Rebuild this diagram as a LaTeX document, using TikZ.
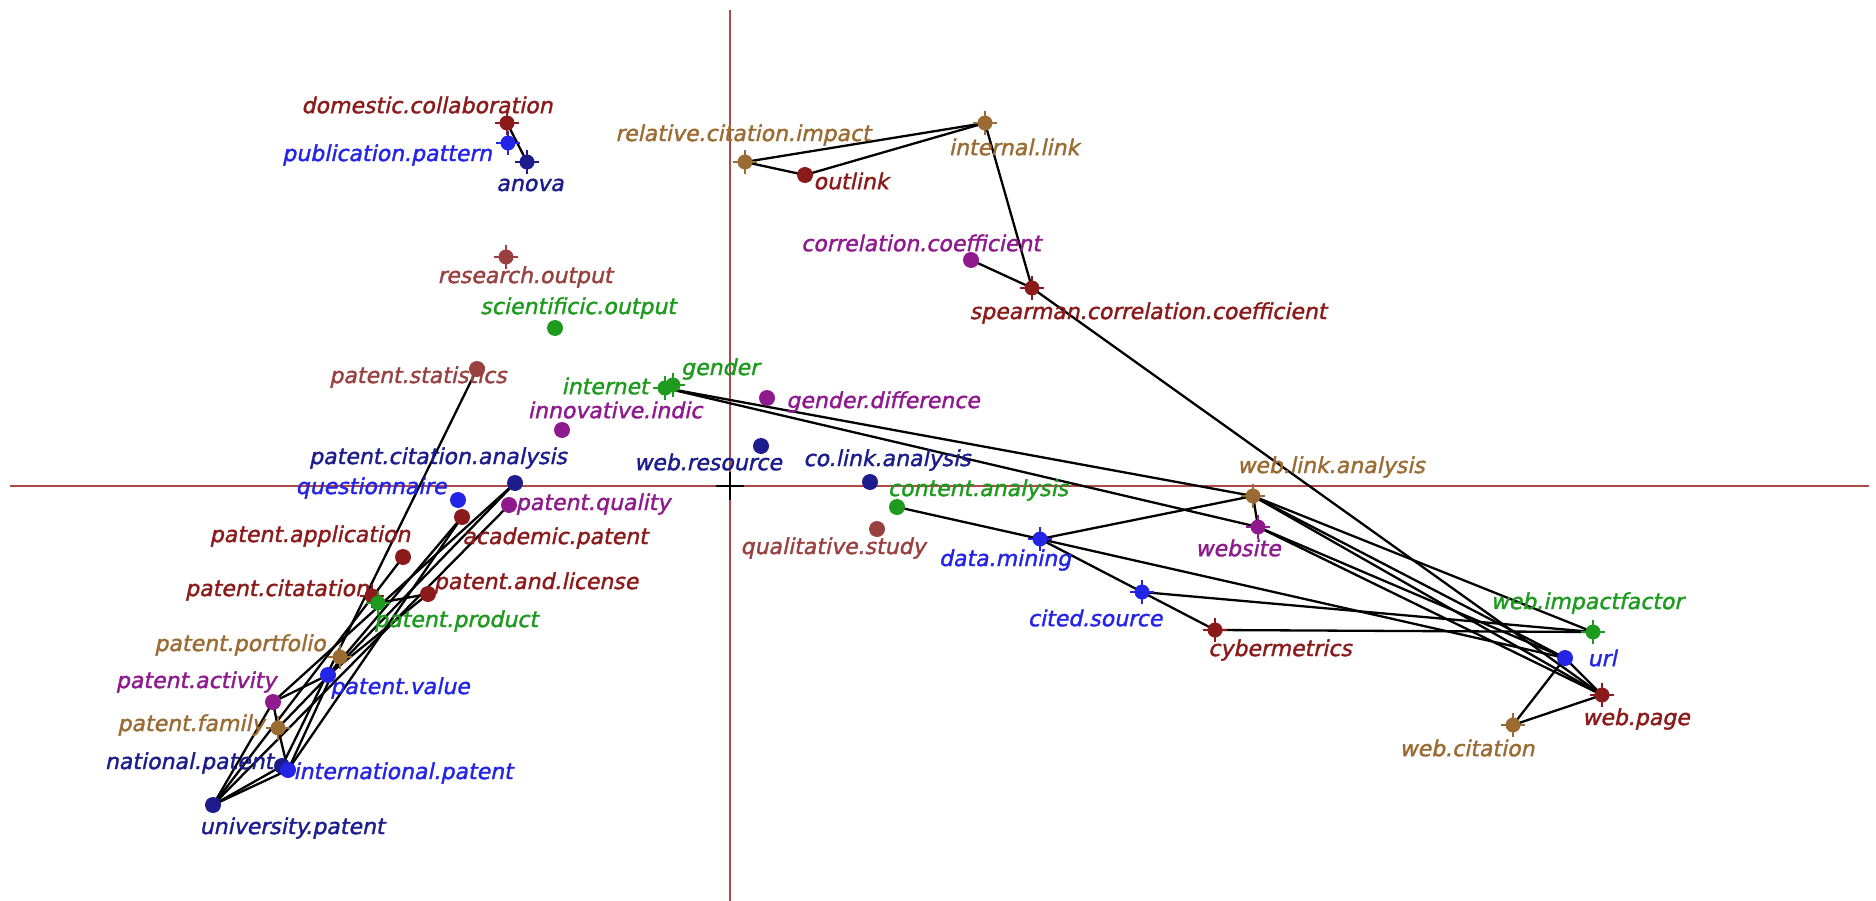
\documentclass[tikz,border=0pt]{standalone}
\usepackage{fontspec}
\setmainfont{DejaVu Sans}
\newfontfamily\lblfont{DejaVu Sans}[FakeSlant=0.21,FakeBold=1.5]
\usetikzlibrary{backgrounds}
\definecolor{dred}{HTML}{8B1A1A}
\definecolor{bred}{HTML}{994040}
\definecolor{tan}{HTML}{9A6B33}
\definecolor{blu}{HTML}{2424E6}
\definecolor{navy}{HTML}{1C1C8C}
\definecolor{grn}{HTML}{1E9A1E}
\definecolor{prp}{HTML}{8E1A8E}
\definecolor{axis}{HTML}{B04A4A}
\tikzset{
  dotm/.style={circle,fill=#1,inner sep=0pt,minimum size=16pt},
  starm/.style={circle,fill=#1,inner sep=0pt,minimum size=15pt,
    append after command={
      ([xshift=-12pt]\tikzlastnode.center) edge[draw=#1,line width=1.6pt] ([xshift=12pt]\tikzlastnode.center)
      ([yshift=-12pt]\tikzlastnode.center) edge[draw=#1,line width=1.6pt] ([yshift=12pt]\tikzlastnode.center)}},
  lbl/.style={text=#1,font=\lblfont\fontsize{22}{24}\selectfont,inner sep=0pt},
  link/.style={draw=black,line width=2.3pt},
  axisline/.style={draw=axis,line width=1.4pt}
}
\begin{document}
\begin{tikzpicture}[x=1pt,y=-1pt]
\useasboundingbox (0,0) rectangle (1876,901);
% axis ends
\coordinate (ytop) at (730,10);
\coordinate (ybot) at (730,901);
\coordinate (xl) at (10,486);
\coordinate (xr) at (1869,486);
\coordinate (org) at (730,486);

% markers
\node[starm=dred] (dc)  at (507,123) {};
\node[starm=blu]  (pp)  at (508,143) {};
\node[starm=navy] (an)  at (527,162) {};
\node[starm=bred] (ro)  at (506,257) {};
\node[dotm=grn]   (so)  at (555,328) {};
\node[dotm=bred]  (ps)  at (477,369) {};
\node[starm=grn]  (inet) at (665,388) {};
\node[starm=grn]  (ge)  at (673,385) {};
\node[dotm=prp]   (ii)  at (562,430) {};
\node[dotm=prp]   (gd)  at (767,398) {};
\node[dotm=navy]  (wr)  at (761,446) {};
\node[starm=tan]  (rci) at (745,162) {};
\node[dotm=dred]  (ol)  at (805,175) {};
\node[starm=tan]  (il)  at (985,123) {};
\node[dotm=prp]   (cc)  at (971,260) {};
\node[starm=dred] (sc)  at (1032,288) {};
\node[dotm=navy]  (cla) at (870,482) {};
\node[dotm=grn]   (ca)  at (897,507) {};
\node[dotm=bred]  (qs)  at (877,529) {};
\node[starm=blu]  (dm)  at (1040,539) {};
\node[starm=prp]  (ws)  at (1258,527) {};
\node[starm=tan]  (wla) at (1253,496) {};
\node[starm=blu]  (cs)  at (1142,592) {};
\node[starm=dred] (cy)  at (1215,630) {};
\node[starm=grn]  (wif) at (1593,632) {};
\node[dotm=blu]   (url) at (1565,658) {};
\node[starm=dred] (wp)  at (1602,695) {};
\node[starm=tan]  (wc)  at (1513,725) {};
\node[dotm=navy]  (pca) at (515,483) {};
\node[dotm=blu]   (qn)  at (458,500) {};
\node[dotm=prp]   (pq)  at (509,505) {};
\node[dotm=dred]  (ap)  at (462,517) {};
\node[dotm=dred]  (pa)  at (403,557) {};
\node[starm=dred] (pct) at (372,596) {};
\node[dotm=dred]  (pal) at (428,594) {};
\node[starm=grn]  (ppr) at (378,603) {};
\node[starm=tan]  (ppf) at (340,657) {};
\node[dotm=blu]   (pv)  at (328,675) {};
\node[dotm=prp]   (pact) at (273,702) {};
\node[starm=tan]  (pf)  at (278,728) {};
\node[dotm=navy]  (np)  at (282,766) {};
\node[dotm=blu]   (ip)  at (288,770) {};
\node[dotm=navy]  (up)  at (213,805) {};

% labels
\node[lbl=dred] (Ldc)  at (427,105) {domestic.collaboration};
\node[lbl=blu]  (Lpp)  at (387,155) {publication.pattern};
\node[lbl=navy] (Lan)  at (530,185) {anova};
\node[lbl=bred] (Lro)  at (525,277) {research.output};
\node[lbl=grn]  (Lso)  at (578,308) {scientificic.output};
\node[lbl=bred] (Lps)  at (418,377) {patent.statistics};
\node[lbl=grn]  (Linet) at (605,386) {internet};
\node[lbl=grn]  (Lge)  at (720,369) {gender};
\node[lbl=prp]  (Lii)  at (615,410) {innovative.indic};
\node[lbl=prp]  (Lgd)  at (883,402) {gender.difference};
\node[lbl=navy] (Lwr)  at (708,462) {web.resource};
\node[lbl=tan]  (Lrci) at (743,135) {relative.citation.impact};
\node[lbl=dred] (Lol)  at (851,181) {outlink};
\node[lbl=tan]  (Lil)  at (1014,147) {internal.link};
\node[lbl=prp]  (Lcc)  at (921,243) {correlation.coefficient};
\node[lbl=dred] (Lsc)  at (1148,313) {spearman.correlation.coefficient};
\node[lbl=navy] (Lcla) at (887,460) {co.link.analysis};
\node[lbl=grn]  (Lca)  at (978,490) {content.analysis};
\node[lbl=bred] (Lqs)  at (833,548) {qualitative.study};
\node[lbl=blu]  (Ldm)  at (1005,560) {data.mining};
\node[lbl=prp]  (Lws)  at (1238,548) {website};
\node[lbl=tan]  (Lwla) at (1331,467) {web.link.analysis};
\node[lbl=blu]  (Lcs)  at (1095,618) {cited.source};
\node[lbl=dred] (Lcy)  at (1280,650) {cybermetrics};
\node[lbl=grn]  (Lwif) at (1587,603) {web.impactfactor};
\node[lbl=blu]  (Lurl) at (1602,658) {url};
\node[lbl=dred] (Lwp)  at (1636,719) {web.page};
\node[lbl=tan]  (Lwc)  at (1467,748) {web.citation};
\node[lbl=navy] (Lpca) at (438,458) {patent.citation.analysis};
\node[lbl=blu]  (Lqn)  at (371,488) {questionnaire};
\node[lbl=prp]  (Lpq)  at (593,504) {patent.quality};
\node[lbl=dred] (Lap)  at (555,538) {academic.patent};
\node[lbl=dred] (Lpa)  at (310,536) {patent.application};
\node[lbl=dred] (Lpct) at (277,590) {patent.citatation};
\node[lbl=dred] (Lpal) at (536,583) {patent.and.license};
\node[lbl=grn]  (Lppr) at (456,621) {patent.product};
\node[lbl=tan]  (Lppf) at (240,645) {patent.portfolio};
\node[lbl=blu]  (Lpv)  at (400,688) {patent.value};
\node[lbl=prp]  (Lpact) at (196,682) {patent.activity};
\node[lbl=tan]  (Lpf)  at (191,725) {patent.family};
\node[lbl=navy] (Lnp)  at (189,763) {national.patent};
\node[lbl=blu]  (Lip)  at (403,773) {international.patent};
\node[lbl=navy] (Lup)  at (292,828) {university.patent};

\begin{scope}[on background layer]
  % axes and origin cross
  \draw[axisline] (ytop) -- (ybot);
  \draw[axisline] (xl) -- (xr);
  \draw[black,line width=2.6pt] ([xshift=-14pt]org) -- ([xshift=14pt]org);
  \draw[black,line width=2.6pt] ([yshift=-14pt]org) -- ([yshift=14pt]org);
  % links
  \foreach \a/\b in {dc/an,
      rci/il,rci/ol,ol/il,il/sc,cc/sc,sc/wp,
      inet/wla,inet/ws,
      ca/dm,dm/wla,dm/cs,dm/url,cs/cy,cs/wif,cy/wif,
      wla/ws,wla/wif,wla/url,wla/wp,ws/url,ws/wp,url/wp,url/wc,wp/wc,
      ps/np,pca/pf,pca/pact,pq/up,ap/ip,ap/pv,pa/up,ppr/pal,pal/pv,
      pct/ppr,pact/pf,pf/ip,pact/up,np/up,ip/up,ppf/ip,pv/pact}
    \draw[link] (\a.center) -- (\b.center);
\end{scope}
\end{tikzpicture}
\end{document}
